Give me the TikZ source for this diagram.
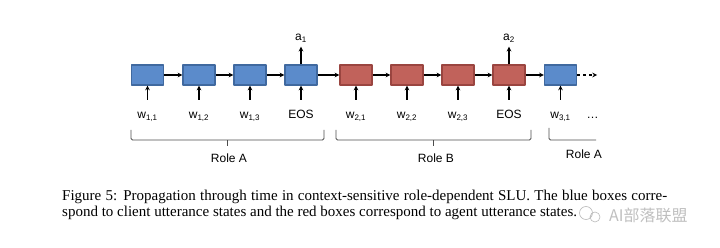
\documentclass[tikz,border=0pt]{standalone}
\usepackage{fontspec}
\setmainfont{Liberation Serif}
\newfontfamily\labelfont{Liberation Sans}
\newfontfamily\cjkfont{Noto Sans CJK SC}
\definecolor{clientfill}{HTML}{5B8BCB}
\definecolor{clientline}{HTML}{40699F}
\definecolor{agentfill}{HTML}{C1625B}
\definecolor{agentline}{HTML}{9A4540}
\tikzset{
  state/.style={draw, line width=1.2pt, minimum width=32pt, minimum height=20pt, inner sep=0pt},
  word/.style={font=\labelfont\fontsize{12}{14}\selectfont, anchor=base, inner sep=1pt, text height=8.5pt, outer ysep=9.5pt},
  act/.style={font=\labelfont\fontsize{12}{14}\selectfont, anchor=base, inner sep=1pt, text depth=3pt, outer ysep=2pt},
  role/.style={font=\labelfont\fontsize{12}{14}\selectfont, anchor=base},
  flow/.style={->, line width=1.1pt},
  brace/.style={draw=black!70, line width=0.8pt, rounded corners=1.5pt},
  caption/.style={anchor=base west, inner sep=0pt, font=\fontsize{15}{17}\selectfont}
}
\begin{document}
\begin{tikzpicture}[x=1pt, y=-1pt, >=stealth, line join=round]
  \useasboundingbox (0,0) rectangle (720,248);
  \def\ybox{75} \def\yword{119}
  % hidden states
  \foreach \n/\x/\f/\d in {s1/147.5/clientfill/clientline, s2/199/clientfill/clientline,
      s3/250/clientfill/clientline, s4/301/clientfill/clientline,
      s5/356/agentfill/agentline, s6/407/agentfill/agentline,
      s7/458/agentfill/agentline, s8/509/agentfill/agentline,
      s9/560.5/clientfill/clientline}
    \node[state, fill=\f, draw=\d] (\n) at (\x,\ybox) {};
  % inputs
  \foreach \n/\x/\t in {s1/147.5/{w\textsubscript{1,1}}, s2/199/{w\textsubscript{1,2}},
      s3/250/{w\textsubscript{1,3}}, s4/301/{EOS}, s5/356/{w\textsubscript{2,1}},
      s6/407/{w\textsubscript{2,2}}, s7/458/{w\textsubscript{2,3}}, s8/509/{EOS},
      s9/560.5/{w\textsubscript{3,1}}}
    {\node[word] (w\n) at (\x,\yword) {\t};
     \draw[flow] (w\n) -- (\n);}
  \node[word, outer ysep=0pt] (dots) at (592.5,\yword) {\textellipsis};
  % recurrence
  \foreach \a/\b in {s1/s2,s2/s3,s3/s4,s4/s5,s5/s6,s6/s7,s7/s8,s8/s9}
    \draw[flow] (\a) -- (\b);
  \coordinate (next) at (597,\ybox);
  \draw[flow, dashed] (s9) -- (next);
  % outputs
  \node[act] (a1) at (301,40.7) {a\textsubscript{1}};
  \node[act] (a2) at (509,40.7) {a\textsubscript{2}};
  \draw[flow] (s4) -- (a1);
  \draw[flow] (s8) -- (a2);
  % roles
  \foreach \l/\r/\c in {131/324/227.5, 336/531/433.5}
    \draw[brace] (\l,130) -- (\l,140) -- (\r,140) -- (\r,130) (\c,140) -- (\c,146);
  \draw[brace] (549,128) -- (549,140) -- (596,140);
  \node[role] (roleA) at (229,163) {Role A};
  \node[role] (roleB) at (436,163) {Role B};
  \node[role] (roleC) at (584,159) {Role A};
  % caption
  \node[caption] (cap1) at (62,201) {\makebox[605pt][s]{Figure 5: Propagation through time in context-sensitive role-dependent SLU. The blue boxes corre-}};
  \node[caption] (cap2) at (62,216) {spond to client utterance states and the red boxes correspond to agent utterance states.};
  % watermark
  \draw[gray!55, fill=white, line width=0.6pt] (586,213) circle[radius=6.5pt] (595,217) circle[radius=5pt];
  \node[anchor=west, inner sep=0pt, text=gray!50, font=\cjkfont\fontsize{16}{17}\selectfont] (mark) at (609,215) {AI部落联盟};
\end{tikzpicture}
\end{document}
